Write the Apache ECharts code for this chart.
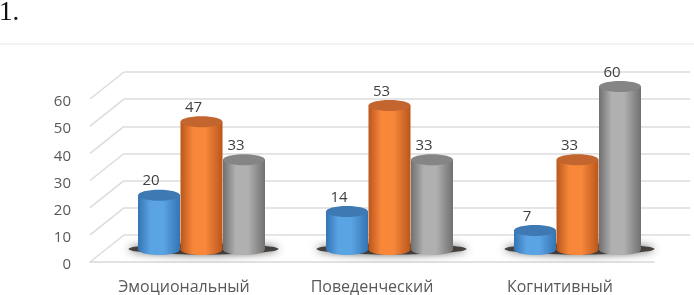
<!DOCTYPE html>
<html><head><meta charset="utf-8">
<style>html,body{margin:0;padding:0;background:#fff}#c{width:694px;height:295px}</style>
<script src="https://cdn.jsdelivr.net/npm/echarts@6/dist/echarts.min.js"></script>
</head><body><div id="c"></div>
<script>
const categories = ['Эмоциональный', 'Поведенческий', 'Когнитивный'];
const blueValues = [20, 14, 7];
const orangeValues = [47, 53, 33];
const grayValues = [33, 33, 60];
const yTicks = [0, 10, 20, 30, 40, 50, 60];

const DX = 17.5, DY = 12.5, BW = 42, RY = 5.5;
const grad = (e, m) => ({type:'linear',x:0,y:0,x2:1,y2:0,colorStops:[
  {offset:0,color:e},{offset:.3,color:m},{offset:.6,color:m},{offset:1,color:e}]});
const styles = [
  {body:grad('#3474b3','#5ba4e4'), top:'#3f79b3'},
  {body:grad('#b9561c','#f8873a'), top:'#c2652f'},
  {body:grad('#707070','#b0b0b0'), top:'#858585'}
];
function cylinder(idx, values){
  return {
    type:'custom', xAxisIndex:0, yAxisIndex:0, z:5+idx, clip:false,
    data: categories.map((c,i)=>[i, values[i]]),
    renderItem(params, api){
      const top = api.coord([api.value(0), api.value(1)]);
      const base = api.coord([api.value(0), 0]);
      const cx = top[0] + DX + (idx-1)*(BW+0.5);
      const ty = top[1] - DY, by = base[1] - DY;
      const x0 = cx - BW/2, s = styles[idx];
      return {type:'group', children:[
        {type:'ellipse', shape:{cx, cy:by, rx:BW/2, ry:RY}, style:{fill:s.body}},
        {type:'rect', shape:{x:x0, y:ty, width:BW, height:by-ty}, style:{fill:s.body}},
        {type:'ellipse', shape:{cx, cy:ty, rx:BW/2, ry:RY}, style:{fill:s.top}},
        {type:'text', x:cx-8, y:ty-14, style:{text:String(api.value(1)), fill:'#404040',
          font:'15px "Open Sans", sans-serif', align:'center', verticalAlign:'middle'}}
      ]};
    }
  };
}
const option = {
  animation:false, backgroundColor:'#fff',
  title:{text:'1.', left:-6, top:-6, textStyle:{fontFamily:'"Liberation Serif", serif', fontSize:27, fontWeight:'normal', color:'#111'}},
  graphic:[{type:'line', shape:{x1:0,y1:44,x2:694,y2:44}, style:{stroke:'#efefef', lineWidth:1.5}, silent:true}],
  grid:[
    {left:90, top:99, width:564, height:163},
    {left:124, top:72, width:566, height:163}
  ],
  xAxis:[
    {type:'category', gridIndex:0, data:categories, axisTick:{show:false},
     axisLine:{lineStyle:{color:'#d9d9d9', width:1.5}},
     axisLabel:{margin:17, color:'#595959', fontSize:16, fontFamily:'"Open Sans", sans-serif'}},
    {type:'category', gridIndex:1, data:categories, show:false}
  ],
  yAxis:[
    {type:'value', gridIndex:0, min:0, max:60, interval:10, splitLine:{show:false},
     axisLine:{show:false}, axisTick:{show:false},
     axisLabel:{margin:19, color:'#595959', fontSize:15, verticalAlign:'top', lineHeight:6, fontFamily:'"Open Sans", sans-serif'}},
    {type:'value', gridIndex:1, min:0, max:60, interval:10,
     axisLine:{show:false}, axisTick:{show:false}, axisLabel:{show:false},
     splitLine:{lineStyle:{color:'#dcdcdc', width:1.5}}}
  ],
  series:[
    {type:'custom', xAxisIndex:0, yAxisIndex:0, z:1, clip:false, silent:true,
     data:yTicks.map(v=>[0,v]),
     renderItem(params, api){
       const p = api.coord([0, api.value(1)]), x = params.coordSys.x;
       return {type:'line', shape:{x1:x, y1:p[1], x2:x+34, y2:p[1]-27}, style:{stroke:'#dcdcdc', lineWidth:1.5}};
     }},
    {type:'custom', xAxisIndex:0, yAxisIndex:0, z:2, clip:false, silent:true,
     data:categories.map((c,i)=>[i,0]),
     renderItem(params, api){
       const p = api.coord([api.value(0), 0]);
       return {type:'ellipse', shape:{cx:p[0]+DX+2, cy:p[1]-13, rx:75, ry:5.5},
         style:{fill:'rgba(55,50,45,0.9)', shadowBlur:8, shadowColor:'rgba(0,0,0,0.7)'}};
     }},
    cylinder(0, blueValues),
    cylinder(1, orangeValues),
    cylinder(2, grayValues)
  ]
};
echarts.init(document.getElementById('c'), null, {renderer:'canvas'}).setOption(option);
</script></body></html>
